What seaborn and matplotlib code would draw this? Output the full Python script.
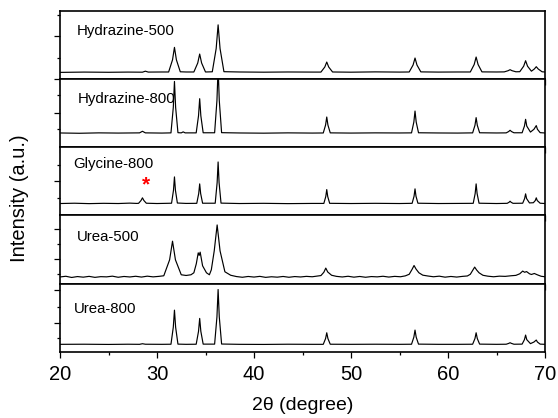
import matplotlib
matplotlib.use("Agg")
import numpy as np
import pandas as pd
import seaborn as sns
import matplotlib.pyplot as plt
from matplotlib.ticker import FixedLocator, MultipleLocator

# ---------------- data ----------------
samples = ["Hydrazine-500", "Hydrazine-800", "Glycine-800", "Urea-500", "Urea-800"]

hyd500_x = [20.0, 22.5, 25.0, 27.0, 28.5, 28.8, 29.1, 30.5,
            31.2, 31.6, 31.8, 32.0, 32.4, 33.0,
            33.8, 34.2, 34.4, 34.6, 35.0,
            35.7, 36.1, 36.3, 36.5, 36.9,
            38.5, 41.0, 43.5, 46.0,
            46.9, 47.3, 47.5, 47.7, 48.1,
            50.0, 52.5, 55.0,
            56.0, 56.4, 56.6, 56.8, 57.2,
            59.0, 61.0,
            62.3, 62.7, 62.9, 63.1, 63.5,
            65.0,
            65.8, 66.2, 66.4, 66.6, 67.0,
            67.4, 67.8, 68.0, 68.2, 68.6,
            68.9, 69.1, 69.3, 69.7, 70.0]
hyd500_y = [6.6, 6.9, 6.7, 6.9, 6.8, 7.8, 6.9, 7.0,
            7.0, 19.2, 31.7, 19.2, 7.2, 7.0,
            7.0, 16.0, 25.0, 16.0, 7.0,
            7.2, 30.5, 54.3, 30.5, 7.3,
            7.0, 6.8, 7.0, 6.9,
            6.9, 12.0, 17.0, 12.0, 7.0,
            6.8, 7.1, 6.9,
            7.0, 14.0, 21.0, 14.0, 7.1,
            6.9, 7.0,
            7.0, 14.5, 22.0, 14.5, 7.1,
            7.0,
            7.1, 8.3, 9.3, 8.3, 7.2,
            7.3, 12.8, 18.3, 12.8, 7.8,
            10.0, 12.3, 10.0, 7.2, 7.0]

hyd800_x = [20.0, 22.0, 24.0, 26.0, 28.2, 28.5, 28.8, 30.5,
            31.44, 31.68, 31.8, 31.92, 32.16,
            32.5, 32.7, 32.9,
            34.04, 34.28, 34.4, 34.52, 34.76,
            35.94, 36.18, 36.3, 36.42, 36.66,
            38.5, 41.0, 43.5, 46.0,
            47.14, 47.38, 47.5, 47.62, 47.86,
            50.0, 52.5, 55.0,
            56.24, 56.48, 56.6, 56.72, 56.96,
            59.0, 61.0,
            62.54, 62.78, 62.9, 63.02, 63.26,
            65.0,
            66.0, 66.25, 66.4, 66.55, 66.8,
            67.64, 67.88, 68.0, 68.12, 68.5,
            68.86, 69.1, 69.22, 69.5, 70.0]
hyd800_y = [14.3, 14.0, 14.4, 14.2, 14.4, 16.0, 14.4, 14.2,
            14.4, 40.0, 66.0, 40.0, 14.6,
            14.4, 15.4, 14.4,
            14.4, 31.5, 48.7, 31.5, 14.5,
            14.5, 47.0, 80.0, 47.0, 14.6,
            14.3, 14.1, 14.4, 14.2,
            14.3, 22.3, 30.3, 22.3, 14.4,
            14.2, 14.4, 14.3,
            14.4, 25.3, 36.3, 25.3, 14.5,
            14.3, 14.2,
            14.4, 22.0, 29.7, 22.0, 14.5,
            14.3,
            14.4, 15.7, 17.0, 15.7, 14.5,
            14.5, 21.2, 28.0, 21.2, 15.2,
            18.0, 21.7, 18.0, 14.6, 14.3]

gly800_x = [20.0, 21.5, 23.0, 24.5, 26.0, 27.2, 27.9,
            28.1, 28.35, 28.5, 28.65, 28.9,
            30.0, 31.0,
            31.5, 31.7, 31.8, 31.9, 32.1,
            33.0,
            34.1, 34.3, 34.4, 34.5, 34.7,
            36.0, 36.2, 36.3, 36.4, 36.6,
            38.5, 41.0, 43.5, 46.0,
            47.2, 47.4, 47.5, 47.6, 47.8,
            50.0, 52.5, 55.0,
            56.3, 56.5, 56.6, 56.7, 56.9,
            59.0, 61.0,
            62.6, 62.8, 62.9, 63.0, 63.2,
            65.0,
            66.1, 66.3, 66.4, 66.5, 66.7,
            67.7, 67.9, 68.0, 68.1, 68.4,
            68.8, 69.0, 69.1, 69.2, 69.5, 70.0]
gly800_y = [12.0, 12.3, 11.9, 12.2, 12.0, 12.4, 12.1,
            12.2, 15.0, 17.7, 15.0, 12.3,
            12.0, 12.2,
            12.3, 25.3, 38.7, 25.3, 12.5,
            12.1,
            12.2, 22.0, 31.7, 22.0, 12.3,
            12.3, 33.0, 53.7, 33.0, 12.4,
            12.0, 12.2, 11.9, 12.1,
            12.1, 19.0, 26.0, 19.0, 12.2,
            12.0, 12.2, 12.0,
            12.2, 19.3, 26.7, 19.3, 12.3,
            12.0, 12.1,
            12.2, 22.0, 31.7, 22.0, 12.3,
            12.0,
            12.2, 13.3, 14.3, 13.3, 12.2,
            12.3, 17.0, 21.7, 17.0, 12.6,
            12.8, 15.0, 17.7, 15.0, 12.3, 12.0]

urea500_x = [20.0, 20.6, 21.2, 21.8, 22.4, 23.0, 23.6, 24.2, 24.8, 25.4,
             26.0, 26.6, 27.2, 27.8, 28.4, 29.0, 29.6, 30.2, 30.7,
             31.3, 31.6, 31.9, 32.5, 33.0, 33.5,
             33.8, 34.05, 34.25, 34.35, 34.45, 34.7, 35.1, 35.4,
             35.6, 35.9, 36.2, 36.5, 37.0, 37.6,
             38.2, 38.8, 39.4, 40.0, 40.6, 41.2, 41.8, 42.4, 43.0, 43.6,
             44.2, 44.8, 45.4, 46.0, 46.6,
             46.9, 47.2, 47.4, 47.6, 48.0, 48.5,
             49.1, 49.7, 50.3, 50.9, 51.5, 52.1, 52.7, 53.3, 53.9, 54.5,
             55.1, 55.6,
             56.0, 56.3, 56.5, 56.7, 57.0, 57.4, 57.9,
             58.5, 59.1, 59.7, 60.3, 60.9, 61.5, 62.0,
             62.3, 62.55, 62.75, 62.95, 63.2, 63.6, 64.1,
             64.7, 65.3, 65.9, 66.5, 67.0,
             67.4, 67.7, 67.9, 68.1, 68.4,
             68.6, 68.9, 69.2, 69.6, 70.0]
urea500_y = [6.8, 7.5, 6.3, 7.2, 6.6, 7.4, 6.4, 7.1, 6.9, 7.6,
             6.5, 7.3, 6.8, 7.5, 6.7, 7.6, 6.9, 7.4, 8.0,
             24.0, 42.7, 24.0, 9.0, 8.3, 9.0,
             11.0, 20.0, 31.0, 28.5, 31.7, 18.0, 11.0, 9.0,
             14.0, 33.0, 59.0, 33.0, 12.0, 8.5,
             7.2, 6.5, 7.3, 6.7, 7.4, 6.4, 7.0, 6.6, 7.3, 6.5,
             7.2, 6.8, 7.4, 7.0, 7.8,
             8.2, 11.5, 15.7, 11.8, 8.5, 7.4,
             6.8, 7.5, 6.6, 7.3, 6.5, 7.2, 6.9, 7.5, 6.7, 7.4,
             7.0, 7.9,
             9.5, 14.5, 18.3, 14.8, 11.0, 8.6, 7.8,
             7.0, 7.6, 6.6, 7.3, 6.7, 7.4, 7.8,
             9.5, 13.5, 16.7, 13.8, 11.0, 8.5, 7.6,
             7.0, 7.6, 7.4, 8.0, 8.4,
             10.0, 12.7, 11.5, 12.2, 10.0,
             9.3, 10.3, 9.0, 7.5, 7.0]

urea800_x = [20.0, 22.5, 25.0, 27.0, 28.2, 28.5, 28.8, 30.5,
             31.44, 31.68, 31.8, 31.92, 32.16,
             33.0,
             34.04, 34.28, 34.4, 34.52, 34.76,
             35.94, 36.18, 36.3, 36.42, 36.66,
             38.5, 41.0, 43.5, 46.0,
             47.14, 47.38, 47.5, 47.62, 47.86,
             50.0, 52.5, 55.0,
             56.24, 56.48, 56.6, 56.72, 56.96,
             59.0, 61.0,
             62.54, 62.78, 62.9, 63.02, 63.26,
             65.0,
             66.0, 66.25, 66.4, 66.55, 66.8,
             67.64, 67.88, 68.0, 68.12, 68.5,
             68.86, 69.1, 69.22, 69.5, 70.0]
urea800_y = [7.7, 7.8, 7.6, 7.8, 7.7, 8.3, 7.8, 7.7,
             7.8, 24.9, 42.0, 24.9, 7.9,
             7.7,
             7.8, 20.7, 33.7, 20.7, 7.9,
             7.9, 35.3, 62.7, 35.3, 8.0,
             7.7, 7.6, 7.8, 7.7,
             7.7, 13.5, 19.3, 13.5, 7.8,
             7.7, 7.8, 7.7,
             7.8, 14.9, 22.0, 14.9, 7.9,
             7.7, 7.7,
             7.8, 13.5, 19.3, 13.5, 7.9,
             7.7,
             7.8, 8.6, 9.3, 8.6, 7.8,
             7.9, 12.4, 17.0, 12.4, 8.4,
             10.0, 12.0, 10.0, 7.9, 7.7]

xtick_values = [20, 30, 40, 50, 60, 70]
impurity_x = 28.9          # red asterisk position (Glycine-800)
impurity_y = 30.5

# ---------------- build table ----------------
series = {
    "Hydrazine-500": (hyd500_x, hyd500_y),
    "Hydrazine-800": (hyd800_x, hyd800_y),
    "Glycine-800": (gly800_x, gly800_y),
    "Urea-500": (urea500_x, urea500_y),
    "Urea-800": (urea800_x, urea800_y),
}
df = pd.concat([pd.DataFrame({"two_theta": x, "intensity": y, "sample": s})
                for s, (x, y) in series.items()], ignore_index=True)

# ---------------- style / layout ----------------
sns.set_theme(style="ticks")
plt.rcParams["font.family"] = ["Liberation Sans", "DejaVu Sans"]
plt.rcParams["axes.linewidth"] = 1.2

W, H = 558, 418
fig = plt.figure(figsize=(W / 100, H / 100), dpi=100)
left, right = 60 / W, 545 / W
top_px, bot_px = 10.7, 352.0
ph = (bot_px - top_px) / 5

label_pos = {
    "Hydrazine-500": (21.73, 48.3),
    "Hydrazine-800": (21.8, 48.7),
    "Glycine-800": (21.37, 51.7),
    "Urea-500": (21.7, 46.7),
    "Urea-800": (21.44, 43.0),
}
ytick_major = {
    "Hydrazine-500": [0.0, 42.7],
    "Hydrazine-800": [34.7],
    "Glycine-800": [34.3],
    "Urea-500": [25.0, 55.0],
    "Urea-800": [29.3, 62.0],
}
ytick_minor = {
    "Hydrazine-500": [21.5, 64.3],
    "Hydrazine-800": [18.7, 52.0],
    "Glycine-800": [17.7, 51.0],
    "Urea-500": [9.3, 40.0],
    "Urea-800": [13.7, 45.3],
}

axes = []
for i, s in enumerate(samples):
    y0 = 1 - (top_px + (i + 1) * ph) / H
    ax = fig.add_axes([left, y0, right - left, ph / H])
    axes.append(ax)
    sub = df[df["sample"] == s]
    sns.lineplot(data=sub, x="two_theta", y="intensity", ax=ax, color="black",
                 linewidth=0.85, sort=False, estimator=None)
    ax.set_xlim(20, 70)
    ax.set_ylim(0, 68.5)
    ax.set_xlabel("")
    ax.set_ylabel("")
    ax.xaxis.set_major_locator(FixedLocator(xtick_values))
    ax.xaxis.set_minor_locator(MultipleLocator(5))
    ax.yaxis.set_major_locator(FixedLocator(ytick_major[s]))
    ax.yaxis.set_minor_locator(FixedLocator(ytick_minor[s]))
    ax.tick_params(axis="both", which="major", direction="out", length=4.5,
                   width=0.9, color="black")
    ax.tick_params(axis="both", which="minor", direction="out", length=2.5,
                   width=0.9, color="black")
    ax.tick_params(axis="y", which="both", labelleft=False)
    if i < len(samples) - 1:
        ax.tick_params(axis="x", which="both", labelbottom=False)
    else:
        ax.tick_params(axis="x", which="major", labelsize=14.5, pad=5,
                       labelcolor="black")
    for sp in ax.spines.values():
        sp.set_visible(True)
        sp.set_color("black")
        sp.set_linewidth(1.2)
    ax.set_facecolor("white")
    lx, ly = label_pos[s]
    ax.text(lx, ly, s, fontsize=10.8, ha="left", va="center", color="black")
    if s == "Glycine-800":
        ax.text(impurity_x, impurity_y, "*", color="red", fontsize=15,
                fontweight="bold", ha="center", va="center")

fig.text((60 + 545) / 2 / W, 1 - 405 / H, "2θ (degree)", ha="center",
         va="center", fontsize=14, color="black")
fig.text(20 / W, 1 - 198 / H, "Intensity (a.u.)", ha="center", va="center",
         rotation=90, fontsize=14.5, color="black")

fig.savefig("out.png", dpi=100, facecolor="white")
